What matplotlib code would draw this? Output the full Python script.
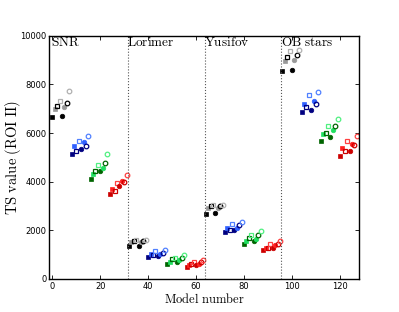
import numpy as np
import matplotlib
matplotlib.use("Agg")
import matplotlib.pyplot as plt

plt.rcParams['mathtext.fontset'] = 'cm'

# TS values, 32 models per source distribution
# within each block of 8: sq dark, sq light, open sq dark, open sq light,
#                         circ dark, circ light, open circ dark, open circ light
snr = [6650, 7000, 7120, 7340, 6710, 7090, 7230, 7740,
       5130, 5450, 5270, 5680, 5350, 5650, 5480, 5900,
       4100, 4310, 4430, 4700, 4460, 4570, 4770, 5120,
       3480, 3700, 3610, 3940, 3830, 4030, 3990, 4290]
lorimer = [1350, 1510, 1580, 1590, 1360, 1510, 1580, 1600,
           920, 1010, 1000, 1150, 945, 1030, 1080, 1190,
           630, 710, 820, 880, 700, 780, 880, 990,
           495, 560, 600, 690, 560, 620, 690, 780]
yusifov = [2690, 2930, 3000, 3030, 2700, 2930, 3000, 3060,
           1935, 2085, 2000, 2260, 2000, 2110, 2210, 2330,
           1430, 1580, 1690, 1800, 1570, 1640, 1800, 1990,
           1190, 1260, 1290, 1450, 1290, 1390, 1430, 1575]
ob_stars = [8560, 8980, 9150, 9380, 8600, 9000, 9200, 9420,
            6870, 7200, 7065, 7560, 6970, 7320, 7200, 7680,
            5680, 5980, 6020, 6280, 5830, 6140, 6300, 6570,
            5060, 5390, 5280, 5680, 5250, 5570, 5490, 5900]

groups = ["SNR", "Lorimer", "Yusifov", "OB stars"]
ts = snr + lorimer + yusifov + ob_stars

dark = ['black', '#000080', '#006400', '#cc0000']
light = ['#999999', '#3060ff', '#20e060', '#ff2020']
lighter = ['#b0b0b0', '#5080ff', '#50f080', '#ff4040']

fig = plt.figure(figsize=(3.99, 3.12), dpi=100)
ax = fig.add_axes([0.124, 0.106, 0.776, 0.779])

for i, v in enumerate(ts):
    c = (i // 8) % 4
    k = i % 8
    mk = 's' if k < 4 else 'o'
    is_light = k % 2 == 1
    is_open = (k % 4) >= 2
    col = light[c] if is_light else dark[c]
    if is_open and is_light:
        col = lighter[c]
    if is_open:
        ax.plot(i, v, mk, ms=3.3, mfc='none', mec=col, mew=0.9)
    else:
        ax.plot(i, v, mk, ms=3.3, mfc=col, mec=col, mew=0.5)

for b in [31.5, 63.5, 95.5]:
    ax.axvline(b, color='#555555', ls=':', lw=0.8)

for j, g in enumerate(groups):
    ax.text(32 * j - 0.7, 9980, r'$\mathrm{%s}$' % g.replace(' ', r'\ '),
            va='top', ha='left', fontsize=9.5)

ax.set_xlim(-1.2, 128)
ax.set_ylim(0, 10000)
ax.set_xticks([0, 20, 40, 60, 80, 100, 120])
ax.set_yticks([0, 2000, 4000, 6000, 8000, 10000])
ax.tick_params(direction='in', top=True, right=True, labelsize=6,
               length=3, width=0.6, pad=2)
for s in ax.spines.values():
    s.set_linewidth(1.0)

ax.set_xlabel(r'$\mathrm{Model\ number}$', fontsize=9, labelpad=1)
ax.set_ylabel(r'$\mathrm{TS\ value\ (ROI\ II)}$', fontsize=10.5)
ax.yaxis.set_label_coords(-0.085, 0.5)

fig.savefig('out.png', dpi=100)
